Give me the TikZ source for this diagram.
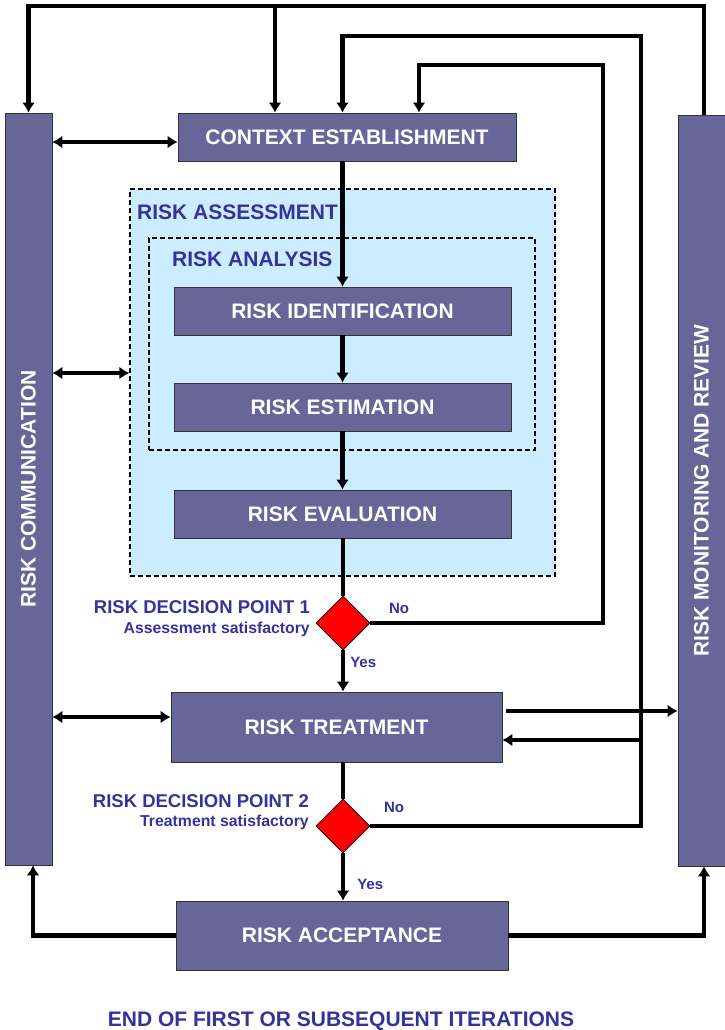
\documentclass[tikz,border=0pt]{standalone}
\usepackage{fontspec}
\setmainfont{Liberation Sans}
\usepackage{graphicx}
\usepackage{tikz}
\usetikzlibrary{positioning, arrows.meta, shapes.geometric}
\definecolor{boxblue}{HTML}{666699}
\definecolor{labelblue}{HTML}{333399}
\definecolor{paleblue}{HTML}{CCECFF}
\tikzstyle{block} = [rectangle, draw=black!80, line width=0.8pt, fill=boxblue, text=white, font=\fontsize{21}{25}\selectfont\bfseries, text centered, inner sep=0pt]
\tikzstyle{sidebar} = [block, minimum width=47pt]
\tikzstyle{group} = [rectangle, draw, line width=1.4pt, dash pattern=on 5pt off 3pt, fill=paleblue, inner sep=0pt]
\tikzstyle{decision} = [diamond, aspect=1, draw, line width=0.8pt, fill=red, minimum size=54pt, inner sep=0pt]
\tikzstyle{heading} = [text=labelblue, font=\fontsize{21}{25}\selectfont\bfseries, inner sep=0pt]
\tikzstyle{note} = [text=labelblue, font=\fontsize{18.5}{22}\selectfont\bfseries, inner sep=0pt]
\tikzstyle{subnote} = [text=labelblue, font=\fontsize{15.8}{19}\selectfont\bfseries, inner sep=0pt]
\tikzstyle{answer} = [text=labelblue, font=\fontsize{15}{18}\selectfont\bfseries, inner sep=0pt]
\tikzstyle{line} = [draw, line width=4.5pt, -{Latex[length=10pt,width=13pt]}]
\tikzstyle{both} = [draw, line width=4.5pt, {Latex[length=10pt,width=13pt]}-{Latex[length=10pt,width=13pt]}]
\tikzstyle{plain} = [draw, line width=4.5pt]

\begin{document}
\begin{tikzpicture}[x=1pt, y=-1pt]
    \useasboundingbox (0,0) rectangle (725,1030);

    % assessment and analysis groups
    \node (assess) [group, minimum width=425pt, minimum height=387pt] at (342.5,382.5) {};
    \node (analysis) [group, minimum width=386pt, minimum height=212pt] at (342,344) {};
    \node (assesstitle) [heading, anchor=west] at (137,212.5) {RISK ASSESSMENT};
    \node (analysistitle) [heading, anchor=west] at (172,259.5) {RISK ANALYSIS};

    % side bars
    \node (comm) [sidebar, minimum height=752pt] at (28.5,489) {\rotatebox{90}{RISK COMMUNICATION}};
    \node (mon) [sidebar, minimum height=751pt] at (701.5,490.5) {\rotatebox{90}{RISK MONITORING AND REVIEW}};

    % main column
    \node (ctx) [block, minimum width=338pt, minimum height=48pt] at (347,137) {CONTEXT ESTABLISHMENT};
    \node (ident) [block, minimum width=337pt, minimum height=48pt] at (342.5,311) {RISK IDENTIFICATION};
    \node (estim) [block, minimum width=337pt, minimum height=48pt] at (342.5,407) {RISK ESTIMATION};
    \node (eval) [block, minimum width=337pt, minimum height=48pt] at (342.5,514) {RISK EVALUATION};
    \node (dp1) [decision] at (343,623) {};
    \node (treat) [block, minimum width=331pt, minimum height=70pt] at (336.5,727) {RISK TREATMENT};
    \node (dp2) [decision] at (343,826) {};
    \node (accept) [block, minimum width=332pt, minimum height=69pt] at (342,935.5) {RISK ACCEPTANCE};
    \node (iterend) [heading] at (341,1021) {END OF FIRST OR SUBSEQUENT ITERATIONS};

    % decision labels
    \node (dp1title) [note, anchor=east] at (310,607) {RISK DECISION POINT 1};
    \node (dp1text) [subnote, anchor=east] at (310,629) {Assessment satisfactory};
    \node (dp2title) [note, anchor=east] at (309,801) {RISK DECISION POINT 2};
    \node (dp2text) [subnote, anchor=east] at (309,822) {Treatment satisfactory};
    \node (no1) [answer] at (399,608) {No};
    \node (no2) [answer] at (394,807) {No};

    % main flow
    \path [line] (ident.north |- ctx.south) -- (ident.north);
    \path [line] (ident) -- (estim);
    \path [line] (estim) -- (eval);
    \path [plain] (eval.south -| dp1.north) -- (dp1.north);
    \path [line] (dp1.south) -- node[answer, pos=0.3, right=5pt] {Yes} (dp1.south |- treat.north);
    \path [plain] (dp2.north |- treat.south) -- (dp2.north);
    \path [line] (dp2.south) -- node[answer, pos=0.65, right=12pt] {Yes} (dp2.south |- accept.north);

    % iteration loops
    \path [line] (dp1.east) -| (603,65) -| ([xshift=72pt]ctx.north);
    \path [line] (dp2.east) -| (641,36) -| (ident.north |- ctx.north);
    \coordinate (back) at (641,740);
    \path [line] (back) -- (back -| treat.east);
    \coordinate (fwd) at (506,711);
    \path [line] (fwd) -- (fwd -| mon.west);
    \path [line] ([xshift=2.5pt]mon.north) |- (comm.north |- 0,6) -- (comm.north);
    \coordinate (tap) at (275,6);
    \path [line] (tap) -- (tap |- ctx.north);
    \path [line] (accept.west) -| ([xshift=4.5pt]comm.south);
    \path [line] (accept.east) -| ([xshift=2.5pt]mon.south);

    % communication links
    \path [both] (comm.east |- 0,142) -- (ctx.west |- 0,142);
    \path [both] (comm.east |- 0,373) -- (assess.west |- 0,373);
    \path [both] (comm.east |- 0,717) -- (treat.west |- 0,717);

\end{tikzpicture}
\end{document}
